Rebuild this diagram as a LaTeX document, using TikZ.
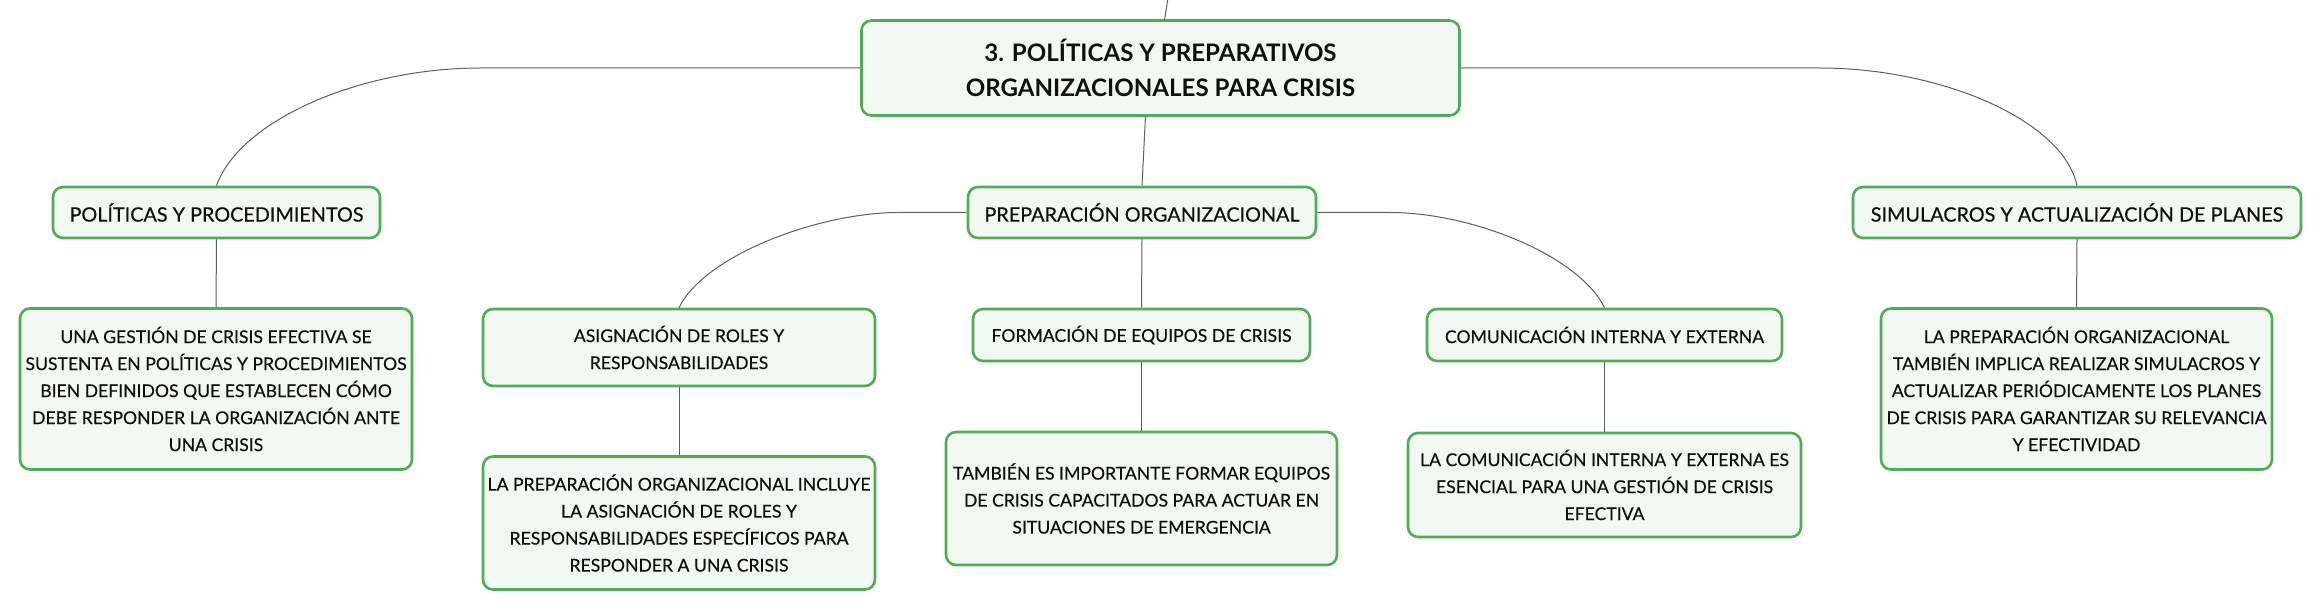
\documentclass[tikz,border=0pt]{standalone}
\usepackage{fontspec}
\setmainfont{Lato}
\newfontfamily\medfont{Lato}[FakeBold=0.35]
\usetikzlibrary{calc}
\definecolor{boxline}{RGB}{80,172,86}
\definecolor{boxfill}{RGB}{241,249,242}
\definecolor{conn}{RGB}{95,95,95}
\definecolor{txt}{RGB}{15,15,15}
\begin{document}
\begin{tikzpicture}[x=1pt,y=-1pt,
  topic/.style={draw=boxline, fill=boxfill, line width=2.6pt, rounded corners=10pt,
    align=center, inner sep=0pt, text=txt, font=\medfont\fontsize{17.6}{27}\selectfont},
  maintopic/.style={topic, font=\medfont\fontsize{19.8}{27}\selectfont},
  roottopic/.style={topic, font=\fontsize{24.1}{35.5}\selectfont\bfseries},
  link/.style={draw=conn, line width=1pt}]
\useasboundingbox[fill=white] (0,0) rectangle (2321,612);

% nodes
\node[roottopic, minimum width=598pt, minimum height=95pt] (root) at (1160.5,68)
  {3. POLÍTICAS Y PREPARATIVOS\\ORGANIZACIONALES PARA CRISIS};
\node[maintopic, minimum width=327pt, minimum height=51pt] (pol) at (216.5,212.5)
  {POLÍTICAS Y PROCEDIMIENTOS};
\node[maintopic, minimum width=348pt, minimum height=51pt] (prep) at (1142,212.5)
  {PREPARACIÓN ORGANIZACIONAL};
\node[maintopic, minimum width=448pt, minimum height=51pt] (sim) at (2077,212.5)
  {SIMULACROS Y ACTUALIZACIÓN DE PLANES};

\node[topic, minimum width=392pt, minimum height=161pt] (poldesc) at (216,389)
  {UNA GESTIÓN DE CRISIS EFECTIVA SE\\SUSTENTA EN POLÍTICAS Y PROCEDIMIENTOS\\BIEN DEFINIDOS QUE ESTABLECEN CÓMO\\DEBE RESPONDER LA ORGANIZACIÓN ANTE\\UNA CRISIS};

\node[topic, minimum width=392pt, minimum height=77pt] (asig) at (679,347.5)
  {ASIGNACIÓN DE ROLES Y\\RESPONSABILIDADES};
\node[topic, minimum width=392pt, minimum height=133pt] (asigdesc) at (679,523)
  {LA PREPARACIÓN ORGANIZACIONAL INCLUYE\\LA ASIGNACIÓN DE ROLES Y\\RESPONSABILIDADES ESPECÍFICOS PARA\\RESPONDER A UNA CRISIS};

\node[topic, minimum width=337pt, minimum height=52pt] (form) at (1141.5,335)
  {FORMACIÓN DE EQUIPOS DE CRISIS};
\node[topic, minimum width=391pt, minimum height=133pt] (formdesc) at (1141.5,498.5)
  {TAMBIÉN ES IMPORTANTE FORMAR EQUIPOS\\DE CRISIS CAPACITADOS PARA ACTUAR EN\\SITUACIONES DE EMERGENCIA};

\node[topic, minimum width=355pt, minimum height=52pt] (com) at (1604.5,335)
  {COMUNICACIÓN INTERNA Y EXTERNA};
\node[topic, minimum width=393pt, minimum height=104pt] (comdesc) at (1604.5,485)
  {LA COMUNICACIÓN INTERNA Y EXTERNA ES\\ESENCIAL PARA UNA GESTIÓN DE CRISIS\\EFECTIVA};

\node[topic, minimum width=391pt, minimum height=161pt] (simdesc) at (2076.5,389)
  {LA PREPARACIÓN ORGANIZACIONAL\\TAMBIÉN IMPLICA REALIZAR SIMULACROS Y\\ACTUALIZAR PERIÓDICAMENTE LOS PLANES\\DE CRISIS PARA GARANTIZAR SU RELEVANCIA\\Y EFECTIVIDAD};

\coordinate (topend) at (1168,-2);

% connectors
\draw[link] ($(root.north)+(4,1)$) -- (topend);
\draw[link] (root.west) -- ++(-380,0) .. controls +(-119,0) and +(23.5,-66) .. (pol.north);
\draw[link] (root.east) -- ++(359,0) .. controls +(120,0) and +(-14,-66) .. (sim.north);
\draw[link] ($(root.south)+(-15,-1)$) -- (prep.north);
\draw[link] (prep.west) -- ++(-68,0) .. controls +(-79,0) and +(26,-53) .. (asig.north);
\draw[link] (prep.east) -- ++(73,0) .. controls +(80,0) and +(-26,-53) .. (com.north);
\draw[link] (pol.south) -- (poldesc.north);
\draw[link] (asig.south) -- (asigdesc.north);
\draw[link] (prep.south) -- (form.north);
\draw[link] (form.south) -- (formdesc.north);
\draw[link] (com.south) -- (comdesc.north);
\draw[link] (sim.south) -- (simdesc.north);
\end{tikzpicture}
\end{document}
